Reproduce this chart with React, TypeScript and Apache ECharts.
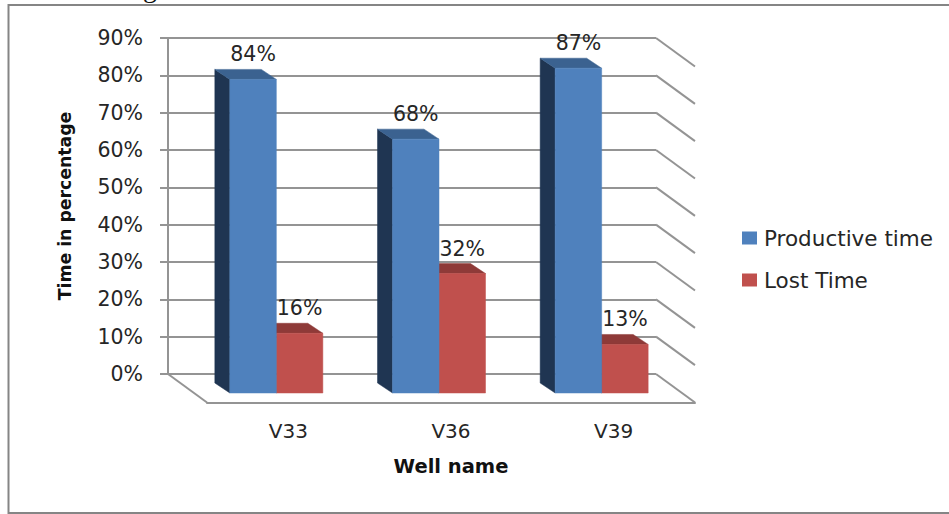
import React, { useEffect, useRef } from "react";
import * as echarts from "echarts";

const categories = ["V33", "V36", "V39"];
const productiveTime = [84, 68, 87];
const lostTime = [16, 32, 13];
const yTicks = [0, 10, 20, 30, 40, 50, 60, 70, 80, 90];

const FONT = "'DejaVu Sans', sans-serif";
const TEXT = "#262626";
const GRID_LINE = "#949494";

// 3D projection: the floor runs from the back wall towards the viewer.
const FLOOR_DX = 39;
const FLOOR_DY = 28.5;
// Offsets of a bar's front and back planes from the floor's front edge.
const FRONT_DX = -12;
const FRONT_DY = -9.5;
const DEPTH_DX = -15;
const DEPTH_DY = -10;
const BAR_WIDTH = 46.5;

function barSeries(
  name: string,
  values: number[],
  side: -1 | 0,
  colors: { front: string; top: string; side: string },
  z: number,
) {
  return {
    name,
    type: "custom",
    xAxisIndex: 1,
    yAxisIndex: 1,
    z,
    clip: false,
    itemStyle: { color: colors.front },
    data: values.map((v, i) => [i, v]),
    encode: { x: 0, y: 1 },
    renderItem: (_: any, api: any) => {
      const value = api.value(1);
      const top = api.coord([api.value(0), value]);
      const base = api.coord([api.value(0), 0]);
      const x0 = top[0] + FRONT_DX + side * BAR_WIDTH;
      const x1 = x0 + BAR_WIDTH;
      const yTop = top[1] + FRONT_DY;
      const yBase = base[1] + FRONT_DY;
      const face = (points: number[][], fill: string) => ({
        type: "polygon",
        shape: { points },
        style: { fill, stroke: fill, lineWidth: 0.5 },
      });
      return {
        type: "group",
        children: [
          face(
            [
              [x0, yTop],
              [x0 + DEPTH_DX, yTop + DEPTH_DY],
              [x0 + DEPTH_DX, yBase + DEPTH_DY],
              [x0, yBase],
            ],
            colors.side,
          ),
          face(
            [
              [x0, yTop],
              [x1, yTop],
              [x1 + DEPTH_DX, yTop + DEPTH_DY],
              [x0 + DEPTH_DX, yTop + DEPTH_DY],
            ],
            colors.top,
          ),
          face(
            [
              [x0, yTop],
              [x1, yTop],
              [x1, yBase],
              [x0, yBase],
            ],
            colors.front,
          ),
          {
            type: "text",
            x: (x0 + x1) / 2,
            y: yTop - 25,
            style: {
              text: `${value}%`,
              fill: TEXT,
              font: `20.5px ${FONT}`,
              align: "center",
              verticalAlign: "middle",
            },
          },
        ],
      };
    },
  };
}

const wallEdges = {
  type: "custom",
  silent: true,
  xAxisIndex: 0,
  yAxisIndex: 0,
  z: 1,
  clip: false,
  data: yTicks.map((t) => [0, t]),
  encode: { x: 0, y: 1 },
  renderItem: (params: any, api: any) => {
    const x = params.coordSys.x + params.coordSys.width;
    const y = api.coord([0, api.value(1)])[1];
    const stroke = { stroke: GRID_LINE, lineWidth: 2 };
    const edge = {
      type: "line",
      shape: { x1: x, y1: y, x2: x + FLOOR_DX, y2: y + FLOOR_DY },
      style: stroke,
    };
    if (api.value(1) !== 0) return edge;
    const left = params.coordSys.x;
    return {
      type: "group",
      children: [
        edge,
        {
          type: "line",
          shape: { x1: left, y1: y, x2: left + FLOOR_DX, y2: y + FLOOR_DY },
          style: stroke,
        },
      ],
    };
  },
};

export default function App() {
  const ref = useRef<HTMLDivElement>(null);

  useEffect(() => {
    const chart = echarts.init(ref.current!, null, { renderer: "svg" });
    chart.setOption({
      animation: false,
      backgroundColor: "#ffffff",
      textStyle: { fontFamily: FONT, color: TEXT },
      graphic: [
        {
          type: "rect",
          z: 0,
          shape: { x: 8.5, y: 5, width: 1000, height: 508 },
          style: { fill: "none", stroke: "#858585", lineWidth: 2 },
        },
        {
          type: "text",
          x: 143,
          y: -27,
          z: 0,
          style: { text: "g", fill: "#111111", font: "28px 'Liberation Serif', serif" },
        },
      ],
      grid: [
        { left: 168, top: 38, width: 488, height: 336 },
        { left: 168 + FLOOR_DX, top: 38 + FLOOR_DY, width: 488, height: 336 },
      ],
      xAxis: [
        {
          gridIndex: 0,
          type: "category",
          data: categories,
          axisLine: { show: false },
          axisTick: { show: false },
          axisLabel: { show: false },
        },
        {
          gridIndex: 1,
          type: "category",
          data: categories,
          axisLine: { show: true, lineStyle: { color: GRID_LINE, width: 2 } },
          axisTick: { show: false },
          axisLabel: { color: TEXT, fontSize: 20, fontFamily: FONT, margin: 18 },
          name: "Well name",
          nameLocation: "middle",
          nameGap: 54,
          nameTextStyle: { color: "#111111", fontSize: 19.5, fontWeight: "bold", fontFamily: FONT },
        },
      ],
      yAxis: [
        {
          gridIndex: 0,
          type: "value",
          min: 0,
          max: 90,
          interval: 10,
          axisLine: { show: true, lineStyle: { color: GRID_LINE, width: 2 } },
          axisTick: { show: true, length: 8, lineStyle: { color: GRID_LINE, width: 2 } },
          splitLine: { show: true, lineStyle: { color: GRID_LINE, width: 2 } },
          axisLabel: { color: TEXT, fontSize: 20.5, fontFamily: FONT, margin: 25, formatter: "{value}%" },
          name: "Time in percentage",
          nameLocation: "middle",
          nameGap: 95,
          nameTextStyle: { color: "#111111", fontSize: 17.3, fontWeight: "bold", fontFamily: FONT },
        },
        {
          gridIndex: 1,
          type: "value",
          min: 0,
          max: 90,
          interval: 10,
          show: false,
        },
      ],
      legend: {
        orient: "vertical",
        left: 737,
        top: 222,
        icon: "rect",
        itemWidth: 15,
        itemHeight: 13,
        itemGap: 20,
        data: ["Productive time", "Lost Time"],
        textStyle: { color: TEXT, fontSize: 21.5, fontFamily: FONT, padding: [0, 0, 0, 2] },
      },
      series: [
        wallEdges,
        barSeries("Productive time", productiveTime, -1, { front: "#4F81BD", top: "#3B6290", side: "#1F3552" }, 3),
        barSeries("Lost Time", lostTime, 0, { front: "#C0504D", top: "#8E3A38", side: "#7A2F2D" }, 2),
      ],
    });
    return () => chart.dispose();
  }, []);

  return (
    <div
      ref={ref}
      style={{ position: "fixed", left: 0, top: 0, width: 949, height: 514 }}
    />
  );
}
